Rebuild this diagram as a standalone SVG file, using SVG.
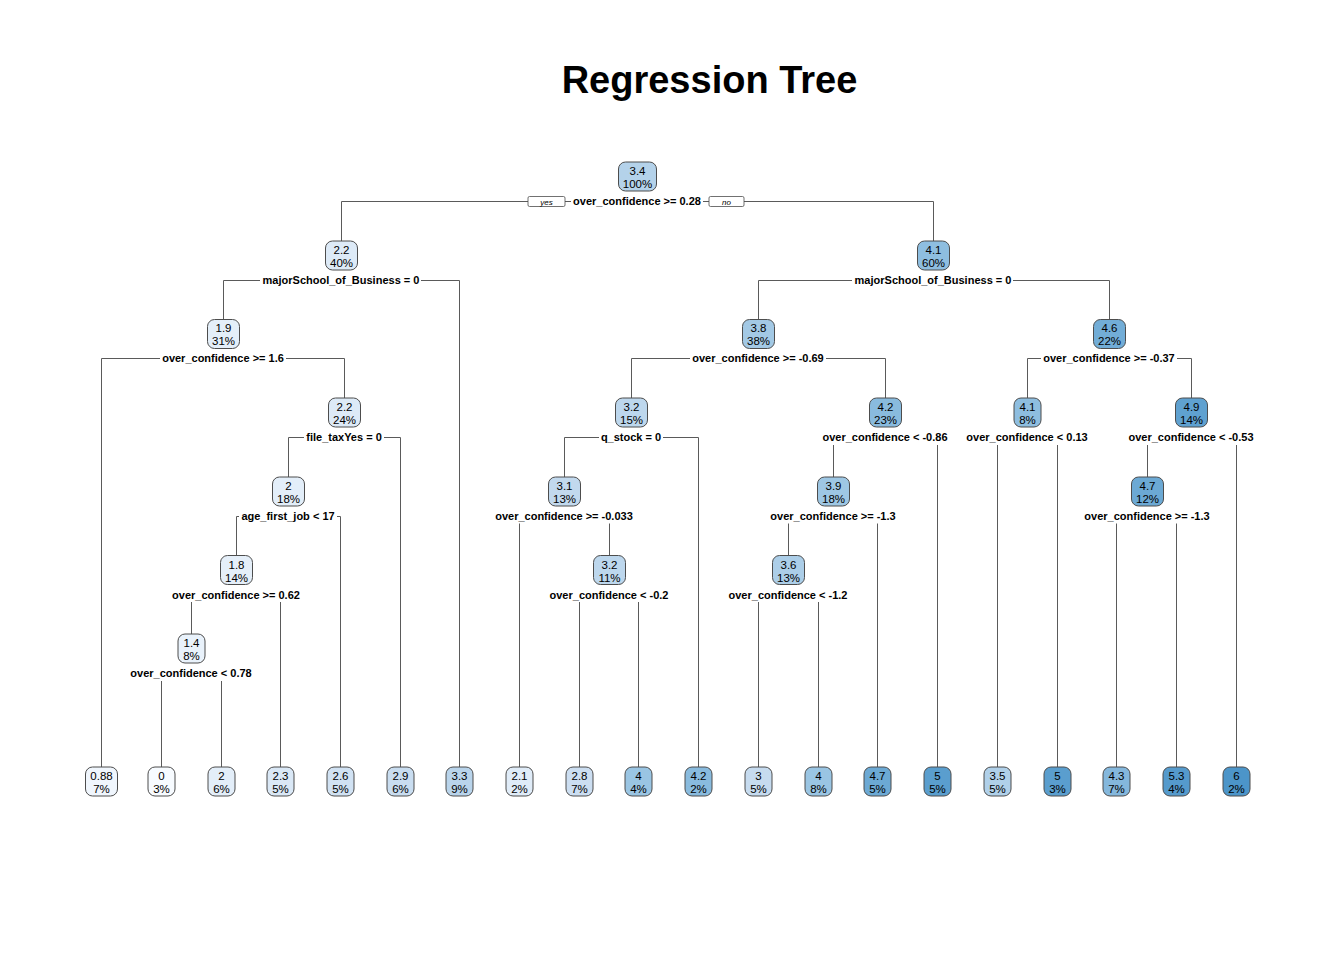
<svg xmlns="http://www.w3.org/2000/svg" width="1344" height="960" viewBox="0 0 1344 960">
<style>
text{font-family:"Liberation Sans",Arial,Helvetica,sans-serif;fill:#000}
.title{font-size:38px;font-weight:bold;text-anchor:middle}
.nv{font-size:11.5px;text-anchor:middle}
.lbl{font-size:11px;font-weight:bold;text-anchor:middle}
.yn{font-size:8px;font-style:italic;text-anchor:middle}
.box{stroke:#4d4d4d;stroke-width:1}
.ynbox{fill:#fff;stroke:#4d4d4d;stroke-width:0.8}
#edges path{fill:none;stroke:#5a5a5a;stroke-width:1}
.v0{fill:#F7FBFF}.v088{fill:#F0F6FD}.v14{fill:#E9F2FB}.v18{fill:#E5EFF9}.v19{fill:#E4EFF9}.v2{fill:#E3EEF9}
.v21{fill:#E0ECF8}.v22{fill:#DDEAF7}.v23{fill:#DAE8F6}.v26{fill:#D1E2F3}.v28{fill:#CCDEF1}.v29{fill:#C9DDF0}
.v3{fill:#C6DBEF}.v31{fill:#C2D9EE}.v32{fill:#BDD7ED}.v33{fill:#B9D4EB}.v34{fill:#B4D2EA}.v35{fill:#B0D0E9}
.v36{fill:#ACCEE8}.v38{fill:#A3C9E5}.v39{fill:#9EC7E4}.v4{fill:#9AC5E3}.v41{fill:#8EBEE0}.v42{fill:#89BBDE}
.v43{fill:#84B7DC}.v46{fill:#72ADD7}.v47{fill:#6CA9D4}.v49{fill:#5FA1D0}.v5{fill:#5A9ECE}.v53{fill:#559ACC}.v6{fill:#4C95C9}
</style>

<text class="title" x="709.5" y="93">Regression Tree</text>

<g id="edges">
<path d="M341.5 241 V201.5 H528"/>
<path d="M565 201.5 H571"/>
<path d="M703 201.5 H709"/>
<path d="M744 201.5 H933.5 V241"/>
<path d="M223.5 319 V280.5 H260"/>
<path d="M421 280.5 H459.5 V767"/>
<path d="M758.5 319 V280.5 H852"/>
<path d="M1013 280.5 H1109.5 V319"/>
<path d="M101.5 767 V358.5 H160"/>
<path d="M286 358.5 H344.5 V398"/>
<path d="M631.5 398 V358.5 H690"/>
<path d="M826 358.5 H885.5 V398"/>
<path d="M1027.5 398 V358.5 H1041"/>
<path d="M1177 358.5 H1191.5 V398"/>
<path d="M288.5 477 V437.5 H304"/>
<path d="M384 437.5 H400.5 V767"/>
<path d="M564.5 477 V437.5 H599"/>
<path d="M663 437.5 H698.5 V767"/>
<path d="M833.5 445 V477"/>
<path d="M937.5 445 V767"/>
<path d="M997.5 445 V767"/>
<path d="M1057.5 445 V767"/>
<path d="M1147.5 445 V477"/>
<path d="M1236.5 445 V767"/>
<path d="M236.5 555 V516.5 H239"/>
<path d="M337 516.5 H340.5 V767"/>
<path d="M519.5 523.5 V767"/>
<path d="M609.5 523.5 V555"/>
<path d="M788.5 523.5 V555"/>
<path d="M877.5 523.5 V767"/>
<path d="M1116.5 523.5 V767"/>
<path d="M1176.5 523.5 V767"/>
<path d="M191.5 602 V634"/>
<path d="M280.5 602 V767"/>
<path d="M579.5 602 V767"/>
<path d="M638.5 602 V767"/>
<path d="M758.5 602 V767"/>
<path d="M818.5 602 V767"/>
<path d="M161.5 681 V767"/>
<path d="M221.5 681 V767"/>
<rect class="ynbox" x="528" y="196.5" width="37" height="10" rx="1.5"/>
<text class="yn" x="546.5" y="204.5">yes</text>
<rect class="ynbox" x="709" y="196.5" width="35" height="10" rx="1.5"/>
<text class="yn" x="726.5" y="204.5">no</text>
</g>

<!-- internal nodes -->
<g id="n1"><rect class="box v34" x="618.5" y="162" width="38" height="29" rx="7"/><text class="nv" x="637.5" y="175">3.4</text><text class="nv" x="637.5" y="188">100%</text><text class="lbl" x="637" y="205">over_confidence &gt;= 0.28</text></g>
<g id="n2"><rect class="box v22" x="325.5" y="241" width="32" height="29" rx="7"/><text class="nv" x="341.5" y="253.7">2.2</text><text class="nv" x="341.5" y="266.7">40%</text><text class="lbl" x="341" y="283.7">majorSchool_of_Business = 0</text></g>
<g id="n3"><rect class="box v41" x="917.5" y="241" width="32" height="29" rx="7"/><text class="nv" x="933.5" y="253.7">4.1</text><text class="nv" x="933.5" y="266.7">60%</text><text class="lbl" x="933" y="283.7">majorSchool_of_Business = 0</text></g>
<g id="n4"><rect class="box v19" x="207.5" y="319.5" width="32" height="29" rx="7"/><text class="nv" x="223.5" y="332.4">1.9</text><text class="nv" x="223.5" y="345.4">31%</text><text class="lbl" x="223" y="362.4">over_confidence &gt;= 1.6</text></g>
<g id="n5"><rect class="box v38" x="742.5" y="319.5" width="32" height="29" rx="7"/><text class="nv" x="758.5" y="332.4">3.8</text><text class="nv" x="758.5" y="345.4">38%</text><text class="lbl" x="758" y="362.4">over_confidence &gt;= -0.69</text></g>
<g id="n6"><rect class="box v46" x="1093.5" y="319.5" width="32" height="29" rx="7"/><text class="nv" x="1109.5" y="332.4">4.6</text><text class="nv" x="1109.5" y="345.4">22%</text><text class="lbl" x="1109" y="362.4">over_confidence &gt;= -0.37</text></g>
<g id="n7"><rect class="box v22" x="328.5" y="398" width="32" height="29" rx="7"/><text class="nv" x="344.5" y="411.1">2.2</text><text class="nv" x="344.5" y="424.1">24%</text><text class="lbl" x="344" y="441.1">file_taxYes = 0</text></g>
<g id="n8"><rect class="box v32" x="615.5" y="398" width="32" height="29" rx="7"/><text class="nv" x="631.5" y="411.1">3.2</text><text class="nv" x="631.5" y="424.1">15%</text><text class="lbl" x="631" y="441.1">q_stock = 0</text></g>
<g id="n9"><rect class="box v42" x="869.5" y="398" width="32" height="29" rx="7"/><text class="nv" x="885.5" y="411.1">4.2</text><text class="nv" x="885.5" y="424.1">23%</text><text class="lbl" x="885" y="441.1">over_confidence &lt; -0.86</text></g>
<g id="n10"><rect class="box v41" x="1014" y="398" width="27" height="29" rx="7"/><text class="nv" x="1027.5" y="411.1">4.1</text><text class="nv" x="1027.5" y="424.1">8%</text><text class="lbl" x="1027" y="441.1">over_confidence &lt; 0.13</text></g>
<g id="n11"><rect class="box v49" x="1175.5" y="398" width="32" height="29" rx="7"/><text class="nv" x="1191.5" y="411.1">4.9</text><text class="nv" x="1191.5" y="424.1">14%</text><text class="lbl" x="1191" y="441.1">over_confidence &lt; -0.53</text></g>
<g id="n12"><rect class="box v2" x="272.5" y="477" width="32" height="29" rx="7"/><text class="nv" x="288.5" y="489.8">2</text><text class="nv" x="288.5" y="502.8">18%</text><text class="lbl" x="288" y="519.8">age_first_job &lt; 17</text></g>
<g id="n13"><rect class="box v31" x="548.5" y="477" width="32" height="29" rx="7"/><text class="nv" x="564.5" y="489.8">3.1</text><text class="nv" x="564.5" y="502.8">13%</text><text class="lbl" x="564" y="519.8">over_confidence &gt;= -0.033</text></g>
<g id="n14"><rect class="box v39" x="817.5" y="477" width="32" height="29" rx="7"/><text class="nv" x="833.5" y="489.8">3.9</text><text class="nv" x="833.5" y="502.8">18%</text><text class="lbl" x="833" y="519.8">over_confidence &gt;= -1.3</text></g>
<g id="n15"><rect class="box v47" x="1131.5" y="477" width="32" height="29" rx="7"/><text class="nv" x="1147.5" y="489.8">4.7</text><text class="nv" x="1147.5" y="502.8">12%</text><text class="lbl" x="1147" y="519.8">over_confidence &gt;= -1.3</text></g>
<g id="n16"><rect class="box v18" x="220.5" y="555.5" width="32" height="29" rx="7"/><text class="nv" x="236.5" y="568.5">1.8</text><text class="nv" x="236.5" y="581.5">14%</text><text class="lbl" x="236" y="598.5">over_confidence &gt;= 0.62</text></g>
<g id="n17"><rect class="box v32" x="593.5" y="555.5" width="32" height="29" rx="7"/><text class="nv" x="609.5" y="568.5">3.2</text><text class="nv" x="609.5" y="581.5">11%</text><text class="lbl" x="609" y="598.5">over_confidence &lt; -0.2</text></g>
<g id="n18"><rect class="box v36" x="772.5" y="555.5" width="32" height="29" rx="7"/><text class="nv" x="788.5" y="568.5">3.6</text><text class="nv" x="788.5" y="581.5">13%</text><text class="lbl" x="788" y="598.5">over_confidence &lt; -1.2</text></g>
<g id="n19"><rect class="box v14" x="178" y="634" width="27" height="29" rx="7"/><text class="nv" x="191.5" y="647.2">1.4</text><text class="nv" x="191.5" y="660.2">8%</text><text class="lbl" x="191" y="677.2">over_confidence &lt; 0.78</text></g>

<!-- leaves -->
<g id="leaf1"><rect class="box v088" x="85.5" y="767" width="32" height="29" rx="7"/><text class="nv" x="101.5" y="780">0.88</text><text class="nv" x="101.5" y="793">7%</text></g>
<g id="leaf2"><rect class="box v0" x="148" y="767" width="27" height="29" rx="7"/><text class="nv" x="161.5" y="780">0</text><text class="nv" x="161.5" y="793">3%</text></g>
<g id="leaf3"><rect class="box v2" x="208" y="767" width="27" height="29" rx="7"/><text class="nv" x="221.5" y="780">2</text><text class="nv" x="221.5" y="793">6%</text></g>
<g id="leaf4"><rect class="box v23" x="267" y="767" width="27" height="29" rx="7"/><text class="nv" x="280.5" y="780">2.3</text><text class="nv" x="280.5" y="793">5%</text></g>
<g id="leaf5"><rect class="box v26" x="327" y="767" width="27" height="29" rx="7"/><text class="nv" x="340.5" y="780">2.6</text><text class="nv" x="340.5" y="793">5%</text></g>
<g id="leaf6"><rect class="box v29" x="387" y="767" width="27" height="29" rx="7"/><text class="nv" x="400.5" y="780">2.9</text><text class="nv" x="400.5" y="793">6%</text></g>
<g id="leaf7"><rect class="box v33" x="446" y="767" width="27" height="29" rx="7"/><text class="nv" x="459.5" y="780">3.3</text><text class="nv" x="459.5" y="793">9%</text></g>
<g id="leaf8"><rect class="box v21" x="506" y="767" width="27" height="29" rx="7"/><text class="nv" x="519.5" y="780">2.1</text><text class="nv" x="519.5" y="793">2%</text></g>
<g id="leaf9"><rect class="box v28" x="566" y="767" width="27" height="29" rx="7"/><text class="nv" x="579.5" y="780">2.8</text><text class="nv" x="579.5" y="793">7%</text></g>
<g id="leaf10"><rect class="box v4" x="625" y="767" width="27" height="29" rx="7"/><text class="nv" x="638.5" y="780">4</text><text class="nv" x="638.5" y="793">4%</text></g>
<g id="leaf11"><rect class="box v42" x="685" y="767" width="27" height="29" rx="7"/><text class="nv" x="698.5" y="780">4.2</text><text class="nv" x="698.5" y="793">2%</text></g>
<g id="leaf12"><rect class="box v3" x="745" y="767" width="27" height="29" rx="7"/><text class="nv" x="758.5" y="780">3</text><text class="nv" x="758.5" y="793">5%</text></g>
<g id="leaf13"><rect class="box v4" x="805" y="767" width="27" height="29" rx="7"/><text class="nv" x="818.5" y="780">4</text><text class="nv" x="818.5" y="793">8%</text></g>
<g id="leaf14"><rect class="box v47" x="864" y="767" width="27" height="29" rx="7"/><text class="nv" x="877.5" y="780">4.7</text><text class="nv" x="877.5" y="793">5%</text></g>
<g id="leaf15"><rect class="box v5" x="924" y="767" width="27" height="29" rx="7"/><text class="nv" x="937.5" y="780">5</text><text class="nv" x="937.5" y="793">5%</text></g>
<g id="leaf16"><rect class="box v35" x="984" y="767" width="27" height="29" rx="7"/><text class="nv" x="997.5" y="780">3.5</text><text class="nv" x="997.5" y="793">5%</text></g>
<g id="leaf17"><rect class="box v5" x="1044" y="767" width="27" height="29" rx="7"/><text class="nv" x="1057.5" y="780">5</text><text class="nv" x="1057.5" y="793">3%</text></g>
<g id="leaf18"><rect class="box v43" x="1103" y="767" width="27" height="29" rx="7"/><text class="nv" x="1116.5" y="780">4.3</text><text class="nv" x="1116.5" y="793">7%</text></g>
<g id="leaf19"><rect class="box v53" x="1163" y="767" width="27" height="29" rx="7"/><text class="nv" x="1176.5" y="780">5.3</text><text class="nv" x="1176.5" y="793">4%</text></g>
<g id="leaf20"><rect class="box v6" x="1223" y="767" width="27" height="29" rx="7"/><text class="nv" x="1236.5" y="780">6</text><text class="nv" x="1236.5" y="793">2%</text></g>
</svg>
